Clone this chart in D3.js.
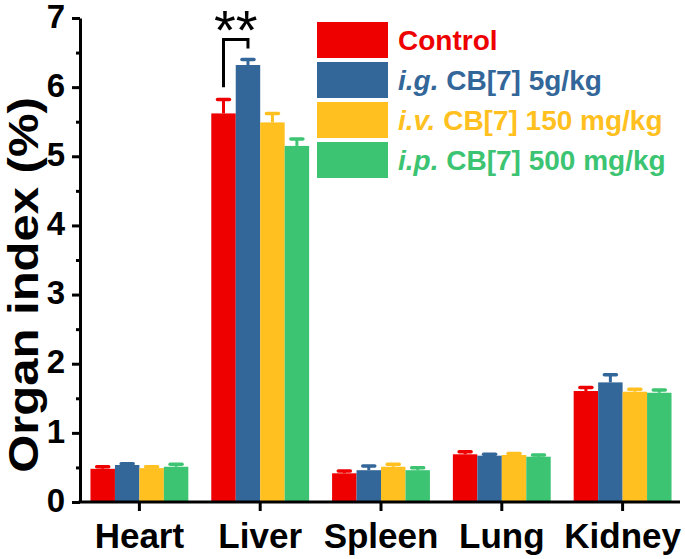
<!DOCTYPE html>
<html>
<head>
<meta charset="utf-8">
<script src="https://cdn.jsdelivr.net/npm/d3@7"></script>
<style>
  body { margin: 0; background: #fff; }
  text { font-family: "Liberation Sans", Arial, sans-serif; }
</style>
</head>
<body>
<div id="chart"></div>
<script>
// data
var organs = ["Heart", "Liver", "Spleen", "Lung", "Kidney"];
var groups = ["control", "ig", "iv", "ip"];

var controlVals = [0.48, 5.62, 0.415, 0.69, 1.605];
var controlErr  = [0.03, 0.20, 0.035, 0.035, 0.05];
var igVals = [0.535, 6.32, 0.46, 0.67, 1.73];
var igErr  = [0.02, 0.08, 0.06, 0.02, 0.11];
var ivVals = [0.49, 5.49, 0.51, 0.68, 1.595];
var ivErr  = [0.02, 0.13, 0.035, 0.02, 0.035];
var ipVals = [0.51, 5.15, 0.46, 0.655, 1.58];
var ipErr  = [0.035, 0.10, 0.035, 0.025, 0.04];

var yTicks = [0, 1, 2, 3, 4, 5, 6, 7];
var yMinor = [0.5, 1.5, 2.5, 3.5, 4.5, 5.5, 6.5];

var legendItems = [
  {pre: "", txt: "Control"},
  {pre: "i.g.", txt: " CB[7] 5g/kg"},
  {pre: "i.v.", txt: " CB[7] 150 mg/kg"},
  {pre: "i.p.", txt: " CB[7] 500 mg/kg"}
];
var colors = ["#ee0000", "#336699", "#ffc020", "#3cc472"];

var vals = [controlVals, igVals, ivVals, ipVals];
var errs = [controlErr, igErr, ivErr, ipErr];

var svgWidth = 685;
var svgHeight = 559;

var svg = d3.select("#chart")
  .append("svg")
  .attr("width", svgWidth)
  .attr("height", svgHeight);

var x = d3.scaleBand()
  .domain(organs)
  .range([79, 683])
  .paddingInner(0.19)
  .paddingOuter(0.095);

var xSub = d3.scaleBand()
  .domain(groups)
  .range([0, x.bandwidth()]);

var y = d3.scaleLinear()
  .domain([0, 7])
  .range([502, 18]);

// flatten for drawing
var bars = [];
organs.forEach(function(o, i) {
  groups.forEach(function(g, j) {
    bars.push({organ: o, group: g, v: vals[j][i], e: errs[j][i], c: colors[j]});
  });
});

// error bars (drawn first so bars overlap the stem bottom)
var errG = svg.append("g");
errG.selectAll("line.stem")
  .data(bars)
  .enter()
  .append("line")
  .attr("x1", d => x(d.organ) + xSub(d.group) + xSub.bandwidth() / 2)
  .attr("x2", d => x(d.organ) + xSub(d.group) + xSub.bandwidth() / 2)
  .attr("y1", d => y(d.v))
  .attr("y2", d => y(d.v + d.e))
  .attr("stroke", d => d.c)
  .attr("stroke-width", 3);

errG.selectAll("line.cap")
  .data(bars)
  .enter()
  .append("line")
  .attr("x1", d => x(d.organ) + xSub(d.group) + xSub.bandwidth() / 2 - 6)
  .attr("x2", d => x(d.organ) + xSub(d.group) + xSub.bandwidth() / 2 + 6)
  .attr("y1", d => y(d.v + d.e))
  .attr("y2", d => y(d.v + d.e))
  .attr("stroke", d => d.c)
  .attr("stroke-width", 3.5)
  .attr("stroke-linecap", "round");

svg.append("g").selectAll("rect")
  .data(bars)
  .enter()
  .append("rect")
  .attr("x", d => x(d.organ) + xSub(d.group))
  .attr("y", d => y(d.v))
  .attr("width", xSub.bandwidth())
  .attr("height", d => y(0) - y(d.v))
  .attr("fill", d => d.c);

// y axis
var leftAxis = d3.axisLeft(y)
  .tickValues(yTicks)
  .tickSize(8)
  .tickSizeOuter(0)
  .tickPadding(7)
  .tickFormat(d3.format("d"));

var yAxis = svg.append("g")
  .attr("transform", "translate(80,0)")
  .call(leftAxis);

yAxis.select(".domain").attr("stroke-width", 3);
yAxis.selectAll(".tick line").attr("stroke-width", 3);
yAxis.selectAll(".tick text")
  .attr("font-size", 33)
  .attr("font-weight", "bold")
  .attr("dy", "0.28em")
  .attr("font-family", "Liberation Sans, Arial, sans-serif");

var minorAxis = d3.axisLeft(y)
  .tickValues(yMinor)
  .tickSize(4)
  .tickSizeOuter(0)
  .tickFormat("");
var yMinorG = svg.append("g")
  .attr("transform", "translate(80,0)")
  .call(minorAxis);
yMinorG.select(".domain").remove();
yMinorG.selectAll(".tick line").attr("stroke-width", 3);

// x axis
var bottomAxis = d3.axisBottom(x)
  .tickSize(9)
  .tickSizeOuter(0)
  .tickPadding(8);

var xAxis = svg.append("g")
  .attr("transform", "translate(0,502)")
  .call(bottomAxis);
xAxis.select(".domain").attr("stroke-width", 3).attr("d", "M78.5,0H680");
xAxis.selectAll(".tick line").attr("stroke-width", 3);
xAxis.selectAll(".tick text")
  .attr("font-size", 35)
  .attr("font-weight", "bold")
  .attr("y", 46)
  .attr("dy", 0)
  .attr("font-family", "Liberation Sans, Arial, sans-serif");

// y title
svg.append("text")
  .attr("transform", "translate(38,285) rotate(-90) scale(1,0.88)")
  .attr("text-anchor", "middle")
  .attr("font-size", 49)
  .attr("font-weight", "bold")
  .text("Organ index (%)");

// significance bracket Liver control vs i.g.
var xL = x("Liver") + xSub("control") + xSub.bandwidth() / 2;
var xR = x("Liver") + xSub("ig") + xSub.bandwidth() / 2;
svg.append("path")
  .attr("d", "M" + xL + "," + y(6.0) + "V" + y(6.69) + "H" + xR + "V" + y(6.56))
  .attr("fill", "none")
  .attr("stroke", "#000")
  .attr("stroke-width", 3);

svg.append("text")
  .attr("x", (xL + xR) / 2)
  .attr("y", 49)
  .attr("text-anchor", "middle")
  .attr("font-size", 56)
  .attr("font-family", "Liberation Sans, Arial, sans-serif")
  .text("**");

// legend
var legend = svg.append("g");
legendItems.forEach(function(item, i) {
  var ly = 22 + i * 40;
  legend.append("rect")
    .attr("x", 317)
    .attr("y", ly)
    .attr("width", 71)
    .attr("height", 36)
    .attr("fill", colors[i]);
  var t = legend.append("text")
    .attr("x", 398)
    .attr("y", ly + 28)
    .attr("font-size", 28)
    .attr("font-weight", "bold")
    .attr("fill", colors[i]);
  if (item.pre) {
    t.append("tspan").attr("font-style", "italic").text(item.pre);
  }
  t.append("tspan").text(item.txt);
});
</script>
</body>
</html>
